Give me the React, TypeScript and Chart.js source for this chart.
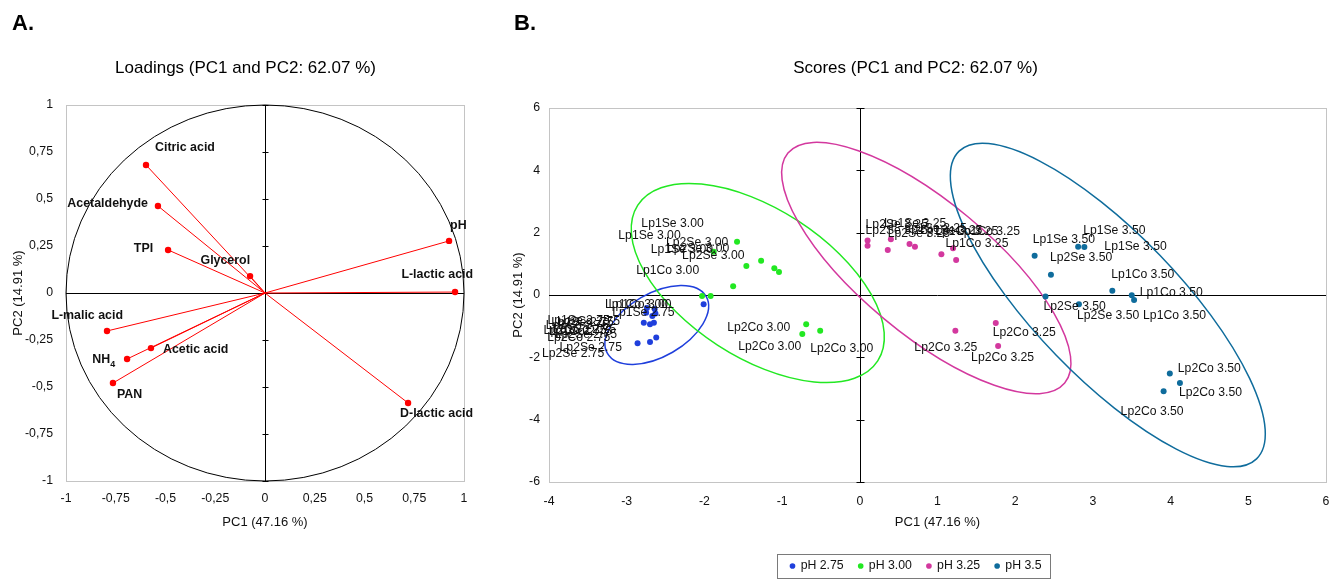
import React, { useEffect, useRef } from 'react';
import { Chart, registerables } from 'chart.js';
Chart.register(...registerables);

// ---------------- Panel A: loadings ----------------
const loadingNames = ['Citric acid', 'Acetaldehyde', 'TPI', 'Glycerol', 'pH', 'L-lactic acid', 'L-malic acid', 'Acetic acid', 'NH4', 'PAN', 'D-lactic acid'];
const loadingPC1 = [-0.598, -0.538, -0.487, -0.075, 0.925, 0.955, -0.794, -0.573, -0.693, -0.764, 0.719];
const loadingPC2 = [0.681, 0.463, 0.229, 0.09, 0.277, 0.005, -0.202, -0.293, -0.351, -0.479, -0.585];
const loadingTicks = [-1, -0.75, -0.5, -0.25, 0, 0.25, 0.5, 0.75, 1];

// ---------------- Panel B: scores ----------------
const groupNames = ['pH 2.75', 'pH 3.00', 'pH 3.25', 'pH 3.5'];

const ph275Labels = ['Lp1Se 2.75', 'Lp1Se 2.75', 'Lp1Se 2.75', 'Lp1Co 2.75', 'Lp1Co 2.75', 'Lp1Co 2.75', 'Lp2Se 2.75', 'Lp2Se 2.75', 'Lp2Co 2.75', 'Lp2Co 2.75', 'Lp2Co 2.75', 'Lp2Se 2.75'];
const ph275PC1 = [-2.75, -2.63, -2.67, -2.78, -2.7, -2.65, -2.86, -2.7, -2.62, -2.01, -2.74, -2.64];
const ph275PC2 = [-0.57, -0.59, -0.67, -0.89, -0.94, -0.89, -1.55, -1.51, -1.36, -0.3, -0.42, -0.45];

const ph300Labels = ['Lp2Se 3.00', 'Lp1Se 3.00', 'Lp2Se 3.00', 'Lp1Se 3.00', 'Lp1Se 3.00', 'Lp2Se 3.00', 'Lp1Co 3.00', 'Lp1Co 3.00', 'Lp1Co 3.00', 'Lp2Co 3.00', 'Lp2Co 3.00', 'Lp2Co 3.00'];
const ph300PC1 = [-1.58, -1.88, -1.27, -1.46, -1.1, -1.04, -1.63, -2.03, -1.92, -0.69, -0.74, -0.51];
const ph300PC2 = [1.71, 1.39, 1.1, 0.93, 0.86, 0.74, 0.28, -0.03, -0.03, -0.94, -1.25, -1.15];

const ph325Labels = ['Lp2Se 3.25', 'Lp2Se 3.25', 'Lp2Se 3.25', 'Lp1Se 3.25', 'Lp1Se 3.25', 'Lp1Se 3.25', 'Lp1Co 3.25', 'Lp1Co 3.25', 'Lp1Co 3.25', 'Lp2Co 3.25', 'Lp2Co 3.25', 'Lp2Co 3.25'];
const ph325PC1 = [0.1, 0.1, 0.36, 0.4, 0.64, 0.71, 1.05, 1.2, 1.24, 1.23, 1.75, 1.78];
const ph325PC2 = [1.75, 1.58, 1.44, 1.79, 1.64, 1.55, 1.31, 1.5, 1.12, -1.15, -0.9, -1.64];

const ph350Labels = ['Lp1Se 3.50', 'Lp1Se 3.50', 'Lp1Se 3.50', 'Lp2Se 3.50', 'Lp1Co 3.50', 'Lp1Co 3.50', 'Lp1Co 3.50', 'Lp2Se 3.50', 'Lp2Se 3.50', 'Lp2Co 3.50', 'Lp2Co 3.50', 'Lp2Co 3.50'];
const ph350PC1 = [2.25, 2.81, 2.89, 2.46, 3.25, 3.5, 3.53, 2.39, 2.82, 3.99, 4.12, 3.91];
const ph350PC2 = [1.26, 1.55, 1.54, 0.65, 0.14, -0.01, -0.16, -0.05, -0.3, -2.52, -2.82, -3.09];

// confidence ellipses (data units): centre and two conjugate semi-axis vectors
const ellipseCenterPC1 = [-2.613, -1.313, 0.856, 3.192];
const ellipseCenterPC2 = [-0.962, 0.385, 0.866, -0.321];
const ellipseAxisU = [[0.635, 0.914], [1.544, -2.499], [1.781, -3.69], [1.914, -4.937]];
const ellipseAxisV = [[0.203, -0.875], [-0.519, -1.992], [-0.543, -1.63], [-0.667, -1.605]];

const scoresXTicks = [-4, -3, -2, -1, 0, 1, 2, 3, 4, 5, 6];
const scoresYTicks = [-6, -4, -2, 0, 2, 4, 6];

// ---------------- styles / placement (not data) ----------------
const groupColors = ['#1f3fdc', '#22e822', '#d3389e', '#0f6c9c'];
const loadingLabelPlace: [number, number, string][] = [
  [9, -17, 'left'], [-10, -2, 'right'], [-15, -1, 'right'], [0, -16, 'right'], [1, -15, 'left'],
  [18, -17, 'right'], [16, -15, 'right'], [12, 1, 'left'], [-12, 1, 'right'], [4, 12, 'left'], [-8, 11, 'left'],
];
const scoreLabelOffsets: number[][][] = [
  [[-34, 0], [-108, 7], [-101, 7], [-98, 3], [-97, 5], [-105, 9], [-78, 4], [-108, 12], [-109, 0], [-160, 26], [-90, 14], [-100, 26]],
  [[-71, 1], [-63, -2], [-79, -5], [-105, -42], [-156, -33], [-112, -23], [-97, -16], [-97, 9], [-102, 9], [-79, 3], [-64, 13], [-10, 18]],
  [[-2, -16], [-2, -15], [0, -16], [-7, -16], [-5, -15], [5, -16], [4, -11], [4, -17], [-21, -28], [-41, 17], [-3, 10], [-27, 12]],
  [[-2, -16], [5, -16], [20, 0], [-1, -17], [-1, -16], [8, -3], [9, 16], [-2, 10], [-2, 11], [8, -5], [-1, 10], [-43, 20]],
];

function detectNarrow(): boolean {
  try {
    const c = document.createElement('canvas').getContext('2d');
    if (!c) return false;
    const s = 'Lp1Co 3.50 WMmw Loadings';
    c.font = '40px monospace';
    const a = c.measureText(s).width;
    c.font = '40px "Liberation Sans Narrow", monospace';
    const b = c.measureText(s).width;
    return Math.abs(a - b) > 1;
  } catch (e) {
    return false;
  }
}
const NARROW = detectNarrow();
const FAM = NARROW ? '"Liberation Sans Narrow", "Arial Narrow", sans-serif' : '"Liberation Sans", Arial, sans-serif';
const K = NARROW ? 1.22 : 1;
const S = {
  title: 17 * K,
  tick: 12.3 * K,
  axisTitle: 13 * K,
  ptLabel: 12.2 * K,
  loadLabel: 12.4 * K,
  legend: 12.3 * K,
  ab: 22 * K,
};

const titlePlugin = (id: string, text: string, cx: number, cy: number) => ({
  id,
  afterDraw(chart: any) {
    const { ctx } = chart;
    ctx.save();
    ctx.fillStyle = '#000';
    ctx.font = `${S.title}px ${FAM}`;
    ctx.textAlign = 'center';
    ctx.textBaseline = 'middle';
    ctx.fillText(text, cx, cy);
    ctx.restore();
  },
});

const frameAndAxes = (id: string, vTicks: number[], tickHalf: number, circle: boolean) => ({
  id,
  beforeDatasetsDraw(chart: any) {
    const { ctx, chartArea: a, scales } = chart;
    const xs = scales.x, ys = scales.y;
    ctx.save();
    ctx.strokeStyle = '#c4c4c4';
    ctx.lineWidth = 1;
    ctx.strokeRect(Math.round(a.left) + 0.5, Math.round(a.top) + 0.5, Math.round(a.right - a.left), Math.round(a.bottom - a.top));
    const x0 = Math.round(xs.getPixelForValue(0)) + 0.5;
    const y0 = Math.round(ys.getPixelForValue(0)) + 0.5;
    ctx.strokeStyle = '#000';
    ctx.beginPath();
    ctx.moveTo(x0, a.top);
    ctx.lineTo(x0, a.bottom);
    ctx.moveTo(a.left, y0);
    ctx.lineTo(a.right, y0);
    vTicks.forEach((v) => {
      const py = Math.round(ys.getPixelForValue(v)) + 0.5;
      ctx.moveTo(x0 - tickHalf, py);
      ctx.lineTo(x0 + tickHalf, py);
    });
    ctx.stroke();
    if (circle) {
      const cx = xs.getPixelForValue(0), cy = ys.getPixelForValue(0);
      const rx = xs.getPixelForValue(1) - cx, ry = cy - ys.getPixelForValue(1);
      ctx.beginPath();
      ctx.ellipse(cx, cy, rx, ry, 0, 0, Math.PI * 2);
      ctx.strokeStyle = '#000';
      ctx.lineWidth = 1;
      ctx.stroke();
    }
    ctx.restore();
  },
});

const loadingLabelsPlugin = {
  id: 'loadingLabels',
  afterDatasetsDraw(chart: any) {
    const { ctx } = chart;
    ctx.save();
    ctx.fillStyle = '#111';
    ctx.textBaseline = 'middle';
    const font = `bold ${S.loadLabel}px ${FAM}`;
    const small = `bold ${S.loadLabel * 0.72}px ${FAM}`;
    loadingNames.forEach((name, i) => {
      const el = chart.getDatasetMeta(i).data[1];
      const [dx, dy, align] = loadingLabelPlace[i];
      const x = el.x + dx, y = el.y + dy;
      const m = name.match(/^([A-Za-z]+)(\d+)$/);
      if (m) {
        ctx.font = font;
        const w1 = ctx.measureText(m[1]).width;
        ctx.font = small;
        const w2 = ctx.measureText(m[2]).width;
        const start = align === 'right' ? x - w1 - w2 : x;
        ctx.textAlign = 'left';
        ctx.font = font;
        ctx.fillText(m[1], start, y);
        ctx.font = small;
        ctx.fillText(m[2], start + w1, y + S.loadLabel * 0.35);
      } else {
        ctx.font = font;
        ctx.textAlign = align;
        ctx.fillText(name, x, y);
      }
    });
    ctx.restore();
  },
};

const groupLabels = [ph275Labels, ph300Labels, ph325Labels, ph350Labels];
const groupPC1 = [ph275PC1, ph300PC1, ph325PC1, ph350PC1];
const groupPC2 = [ph275PC2, ph300PC2, ph325PC2, ph350PC2];

const ellipsesPlugin = {
  id: 'ellipses',
  beforeDatasetsDraw(chart: any) {
    const { ctx, scales } = chart;
    const xs = scales.x, ys = scales.y;
    const kx = xs.getPixelForValue(1) - xs.getPixelForValue(0);
    const ky = ys.getPixelForValue(1) - ys.getPixelForValue(0);
    ellipseCenterPC1.forEach((cxv, i) => {
      const x0 = xs.getPixelForValue(cxv), y0 = ys.getPixelForValue(ellipseCenterPC2[i]);
      const u = ellipseAxisU[i], v = ellipseAxisV[i];
      ctx.save();
      ctx.beginPath();
      ctx.transform(kx * u[0], ky * u[1], kx * v[0], ky * v[1], x0, y0);
      ctx.arc(0, 0, 1, 0, Math.PI * 2);
      ctx.restore();
      ctx.save();
      ctx.strokeStyle = groupColors[i];
      ctx.lineWidth = 1.5;
      ctx.stroke();
      ctx.restore();
    });
  },
};

const scoreLabelsPlugin = {
  id: 'scoreLabels',
  afterDatasetsDraw(chart: any) {
    const { ctx } = chart;
    ctx.save();
    ctx.fillStyle = '#111';
    ctx.textBaseline = 'middle';
    ctx.textAlign = 'left';
    ctx.font = `${S.ptLabel}px ${FAM}`;
    groupLabels.forEach((labels, g) => {
      const meta = chart.getDatasetMeta(g);
      labels.forEach((t, j) => {
        const el = meta.data[j];
        const [dx, dy] = scoreLabelOffsets[g][j];
        ctx.fillText(t, el.x + dx, el.y + dy);
      });
    });
    ctx.restore();
  },
};

const legendBoxPlugin = {
  id: 'legendBox',
  afterDraw(chart: any) {
    const lg = chart.legend;
    if (!lg || !lg.legendHitBoxes || !lg.legendHitBoxes.length) return;
    const hb = lg.legendHitBoxes;
    const first = hb[0], last = hb[hb.length - 1];
    const cy = first.top + first.height / 2;
    const { ctx } = chart;
    ctx.save();
    ctx.strokeStyle = '#7a7a7a';
    ctx.lineWidth = 1;
    const left = Math.round(first.left - 13.5) + 0.5;
    const right = Math.round(last.left + last.width + 8) + 0.5;
    ctx.strokeRect(left, Math.round(cy - 12) + 0.5, right - left, 24);
    ctx.restore();
  },
};

const fixedTicks = (arr: number[]) => (scale: any) => {
  scale.ticks = arr.map((v) => ({ value: v }));
};
const comma = (v: any) => String(v).replace('.', ',');

function configA(): any {
  const lhT = S.axisTitle * 1.2;
  return {
    type: 'scatter',
    data: {
      datasets: loadingNames.map((n, i) => ({
        label: n,
        data: [{ x: 0, y: 0 }, { x: loadingPC1[i], y: loadingPC2[i] }],
        showLine: true,
        borderColor: '#ff0000',
        backgroundColor: '#ff0000',
        borderWidth: 1,
        pointRadius: (c: any) => (c.dataIndex === 1 ? 3.2 : 0),
        pointBorderWidth: 0,
        pointBackgroundColor: '#ff0000',
      })),
    },
    options: {
      animation: false,
      responsive: false,
      devicePixelRatio: 1,
      events: [],
      layout: { padding: { left: 0, right: 26, top: 105, bottom: 0 } },
      plugins: {
        legend: { display: false },
        tooltip: { enabled: false },
        title: { display: false },
      },
      scales: {
        x: {
          type: 'linear', min: -1, max: 1,
          afterBuildTicks: fixedTicks(loadingTicks),
          afterFit: (s: any) => { s.height = 98; },
          grid: { display: false, drawTicks: false },
          border: { display: false },
          ticks: { color: '#111', font: { family: FAM, size: S.tick }, padding: 18 - 0.6 * S.tick, callback: comma, autoSkip: false, maxRotation: 0 },
          title: { display: true, text: 'PC1 (47.16 %)', color: '#111', font: { family: FAM, size: S.axisTitle }, padding: { top: 0, bottom: 57 - lhT / 2 } },
        },
        y: {
          type: 'linear', min: -1, max: 1,
          afterBuildTicks: fixedTicks(loadingTicks),
          afterFit: (s: any) => { s.width = 66; },
          grid: { display: false, drawTicks: false },
          border: { display: false },
          ticks: { color: '#111', font: { family: FAM, size: S.tick }, padding: 13, callback: comma, autoSkip: false },
          title: { display: true, text: 'PC2 (14.91 %)', color: '#111', font: { family: FAM, size: S.axisTitle }, padding: { top: 18 - lhT / 2, bottom: 0 } },
        },
      },
    },
    plugins: [frameAndAxes('axesA', loadingTicks, 3, true), loadingLabelsPlugin, titlePlugin('titleA', 'Loadings (PC1 and PC2: 62.07 %)', 245.5, 68)],
  };
}

function configB(): any {
  const lhT = S.axisTitle * 1.2;
  const fs = S.legend;
  const pb = 3 - fs / 2;
  const xHeight = 579 - pb - (fs + 25) - 482;
  return {
    type: 'scatter',
    data: {
      datasets: groupNames.map((n, g) => ({
        label: n,
        data: groupPC1[g].map((x, j) => ({ x, y: groupPC2[g][j] })),
        backgroundColor: groupColors[g],
        borderColor: groupColors[g],
        borderWidth: 0,
        pointRadius: 3,
        pointBorderWidth: 0,
        pointStyle: 'circle',
      })),
    },
    options: {
      animation: false,
      responsive: false,
      devicePixelRatio: 1,
      events: [],
      layout: { padding: { left: 9, right: 9, top: 108, bottom: pb } },
      plugins: {
        tooltip: { enabled: false },
        title: { display: false },
        legend: {
          display: true,
          position: 'bottom',
          labels: { usePointStyle: true, pointStyle: 'circle', boxWidth: 4, boxHeight: 4, padding: 15, color: '#111', font: { family: FAM, size: fs } },
        },
      },
      scales: {
        x: {
          type: 'linear', min: -4, max: 6,
          afterBuildTicks: fixedTicks(scoresXTicks),
          afterFit: (s: any) => { s.height = xHeight; },
          grid: { display: false, drawTicks: true, tickLength: 20 - 0.6 * S.tick },
          border: { display: false },
          ticks: { color: '#111', font: { family: FAM, size: S.tick }, padding: 0, autoSkip: false, maxRotation: 0 },
          title: { display: true, text: 'PC1 (47.16 %)', color: '#111', font: { family: FAM, size: S.axisTitle }, padding: { top: 0, bottom: (482 + xHeight - 522) - lhT / 2 } },
        },
        y: {
          type: 'linear', min: -6, max: 6,
          afterBuildTicks: fixedTicks(scoresYTicks),
          afterFit: (s: any) => { s.width = 43; },
          grid: { display: false, drawTicks: false },
          border: { display: false },
          ticks: { color: '#111', font: { family: FAM, size: S.tick }, padding: 9, autoSkip: false },
          title: { display: true, text: 'PC2 (14.91 %)', color: '#111', font: { family: FAM, size: S.axisTitle }, padding: { top: 12 - lhT / 2, bottom: 0 } },
        },
      },
    },
    plugins: [frameAndAxes('axesB', scoresYTicks, 4, false), ellipsesPlugin, scoreLabelsPlugin, legendBoxPlugin, titlePlugin('titleB', 'Scores (PC1 and PC2: 62.07 %)', 915.5 - 497, 68)],
  };
}

export default function App() {
  const aRef = useRef<HTMLCanvasElement>(null);
  const bRef = useRef<HTMLCanvasElement>(null);
  useEffect(() => {
    const a = new Chart(aRef.current as HTMLCanvasElement, configA());
    const b = new Chart(bRef.current as HTMLCanvasElement, configB());
    return () => {
      a.destroy();
      b.destroy();
    };
  }, []);
  const ab: React.CSSProperties = { position: 'absolute', top: 12, font: `bold ${S.ab}px ${FAM}`, lineHeight: 1, color: '#000' };
  return (
    <div style={{ position: 'fixed', left: 0, top: 0, width: 1335, height: 579, overflow: 'hidden', background: '#fff' }}>
      <canvas ref={aRef} width={490} height={579} style={{ position: 'absolute', left: 0, top: 0 }} />
      <canvas ref={bRef} width={838} height={579} style={{ position: 'absolute', left: 497, top: 0 }} />
      <div style={{ ...ab, left: 12 }}>A.</div>
      <div style={{ ...ab, left: 514 }}>B.</div>
    </div>
  );
}
